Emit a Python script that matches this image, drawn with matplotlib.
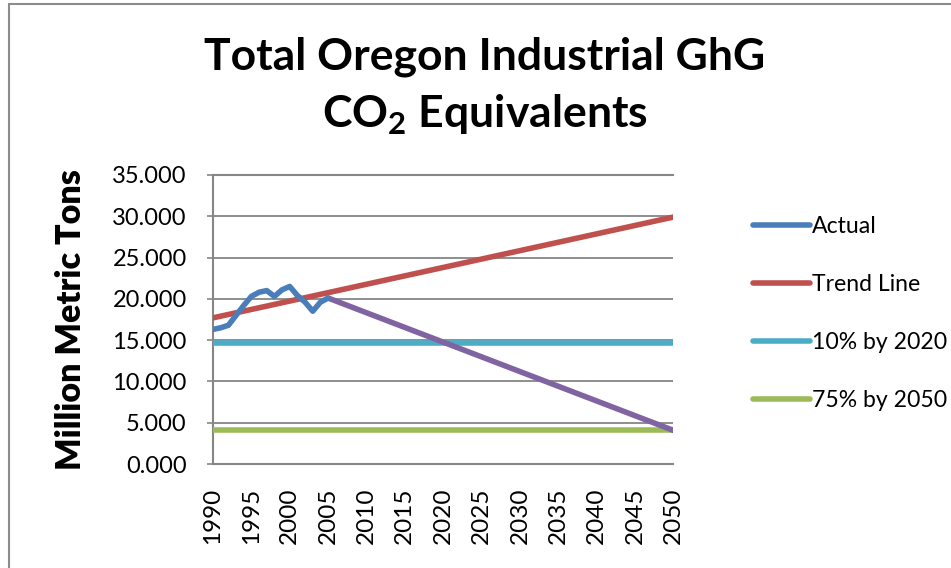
import numpy as np
import matplotlib.pyplot as plt
from matplotlib.patches import Rectangle

plt.rcParams['font.family'] = ['Lato', 'DejaVu Sans']
plt.rcParams['mathtext.fontset'] = 'custom'
plt.rcParams['mathtext.rm'] = 'Lato'
plt.rcParams['mathtext.bf'] = 'Lato:bold'

# Data
years_actual = list(range(1990, 2006))
actual = [16.3, 16.5, 16.8, 18.0, 19.2, 20.3, 20.8, 21.0, 20.3, 21.1,
          21.5, 20.4, 19.6, 18.5, 19.6, 20.1]
trend_years = [1990, 2050]
trend = [17.7, 29.9]
target_years = [1990, 2050]
target_2020 = [14.67, 14.67]
target_2050 = [4.08, 4.08]
path_years = [2005, 2050]
path = [20.1, 4.08]

year_ticks = list(range(1990, 2051, 5))
y_ticks = [0, 5, 10, 15, 20, 25, 30, 35]

grid_col = '#868686'

fig = plt.figure(figsize=(9.51, 5.68), dpi=100)
ax = fig.add_axes([0.224, 0.183, 0.484, 0.509])

lw = 4.0
ax.plot(target_years, target_2020, color='#4BACC6', lw=lw, solid_capstyle='round', label='10% by 2020', zorder=3)
ax.plot(target_years, target_2050, color='#9BBB59', lw=lw, solid_capstyle='round', label='75% by 2050', zorder=3)
ax.plot(path_years, path, color='#8064A2', lw=lw, solid_capstyle='round', zorder=3)
ax.plot(trend_years, trend, color='#C0504D', lw=lw, solid_capstyle='round', label='Trend Line', zorder=4)
ax.plot(years_actual, actual, color='#4A7EBB', lw=lw, solid_capstyle='round', solid_joinstyle='round', label='Actual', zorder=5)

ax.set_xlim(1990, 2050)
ax.set_ylim(0, 35)
ax.set_yticks(y_ticks)
ax.set_yticklabels([f'{v:.3f}' for v in y_ticks])
ax.set_xticks(year_ticks)
ax.set_xticklabels([str(y) for y in year_ticks], rotation=90)
ax.tick_params(axis='x', length=0, pad=17, labelsize=17.5)
ax.tick_params(axis='y', length=4, width=1.2, color=grid_col, pad=15, labelsize=17)
ax.grid(axis='y', color=grid_col, lw=1.3)
ax.set_axisbelow(True)
ax.spines['right'].set_visible(False)
for s in ['left', 'bottom', 'top']:
    ax.spines[s].set_color(grid_col)
    ax.spines[s].set_linewidth(1.5)

ax.set_ylabel('Million Metric Tons', fontsize=24.5, fontweight='heavy', labelpad=18)

fig.text(0.51, 0.9, 'Total Oregon Industrial GhG', ha='center', va='center',
         fontsize=32, fontweight='bold')
fig.text(0.51, 0.797, r'CO$_{\mathbf{2}}$ Equivalents', ha='center', va='center',
         fontsize=32, fontweight='bold')

handles, labels = ax.get_legend_handles_labels()
order = ['Actual', 'Trend Line', '10% by 2020', '75% by 2050']
hl = dict(zip(labels, handles))
leg = fig.legend([hl[k] for k in order], order, loc='upper left',
                 bbox_to_anchor=(0.792, 0.619), frameon=False, fontsize=16.6,
                 handlelength=2.45, handletextpad=0.1, labelspacing=1.6,
                 borderaxespad=0, borderpad=0)

# chart border
fig.patches.append(Rectangle((0.009, -0.05), 1.2, 1.043, transform=fig.transFigure,
                             fill=False, edgecolor='#8c8c8c', lw=1.5))

fig.savefig('out.png', dpi=100)
